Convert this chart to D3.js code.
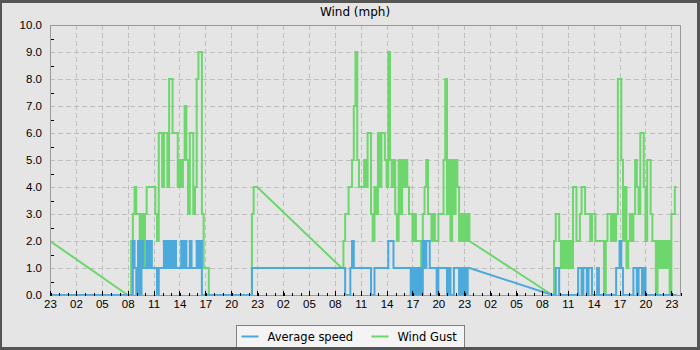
<!DOCTYPE html>
<html>
<head>
<meta charset="utf-8">
<title>Wind (mph)</title>
<script src="https://cdn.jsdelivr.net/npm/d3@7/dist/d3.min.js"></script>
<style>
    body { margin: 0; background: #555; }
    svg { display: block; font-family: "DejaVu Sans", sans-serif; }
</style>
</head>
<body>
<div id="chart"></div>
<script>
const width = 700;
const height = 350;
const margin = { top: 25, right: 20, bottom: 55, left: 50 };
const plotW = width - margin.left - margin.right;
const plotH = height - margin.top - margin.bottom;

// x axis runs 73 hours, starting at 23:00; labels every 3 hours
const spanHours = 73;
const hourLabels = ["23", "02", "05", "08", "11", "14", "17", "20",
                    "23", "02", "05", "08", "11", "14", "17", "20",
                    "23", "02", "05", "08", "11", "14", "17", "20", "23"];
const seriesNames = ["Average speed", "Wind Gust"];

// archive records, one every 0.2 h inside each run; runs are joined by straight lines
const sampleStep = 0.2;
const runStarts = [0, 9.0, 23.2, 33.8, 58.2];

const avgSpeed0 = [0];
const windGust0 = [2];

const avgSpeed1 = [0, 0, 0, 2, 1, 0, 2, 0, 2, 1, 1, 2, 1, 2, 1, 1, 1, 0, 1, 1,
                   1, 2, 1, 2, 1, 2, 1, 2, 1, 1, 1, 2, 1, 2, 1, 1, 2, 1, 1, 1,
                   2, 1, 2, 0, 0, 0, 0, 0];
const windGust1 = [0, 0, 2, 3, 4, 3, 3, 2, 3, 1, 3, 4, 4, 4, 4, 4, 3, 2, 6, 6,
                   4, 6, 6, 4, 8, 8, 6, 6, 6, 4, 5, 4, 5, 7, 5, 3, 6, 6, 3, 4,
                   8, 9, 9, 3, 1, 1, 1, 0];

const avgSpeed2 = [0, 1, 1, 1, 1];
const windGust2 = [0, 3, 4, 4, 4];

const avgSpeed3 = [1,
                   1, 0, 0, 0, 1, 2, 1, 1, 1, 1, 1, 1, 1, 1, 1, 1, 0, 0, 1, 1,
                   1, 1, 1, 1, 1, 1, 2, 2, 2, 1, 1, 1, 1, 1, 1, 1, 1, 1, 1, 0,
                   1, 0, 1, 0, 1, 0, 2, 1, 2, 2, 1, 1, 1, 1, 0, 1, 1, 1, 1, 1,
                   0, 1, 0, 0, 1, 1, 1, 0, 1, 0, 1, 0, 1, 1];
const windGust3 = [1,
                   2, 3, 3, 4, 4, 5, 7, 9, 5, 4, 4, 4, 5, 4, 6, 6, 3, 2, 4, 3,
                   6, 4, 6, 6, 5, 4, 9, 5, 4, 5, 3, 2, 5, 3, 5, 4, 5, 4, 3, 3,
                   2, 3, 2, 2, 2, 1, 3, 4, 5, 3, 3, 2, 3, 2, 2, 3, 3, 3, 5, 8,
                   3, 5, 2, 5, 3, 5, 4, 2, 3, 2, 3, 2, 3, 2];

const avgSpeed4 = [0, 0, 1, 1,
                   0, 0, 0, 0, 0, 0, 0, 0, 0, 0, 0, 1, 1, 0, 1, 1, 0, 1, 1, 0,
                   0, 0, 1, 0, 0, 0, 0, 0, 0, 0, 0, 0, 0, 1, 1, 2, 1, 0, 0, 0,
                   0, 0, 0, 1, 1, 0, 1, 1, 0, 1, 0, 0, 0, 0, 0, 0, 0, 0, 0, 0,
                   0, 0, 0, 0, 0, 0, 0, 0, 0];
const windGust4 = [0, 2, 3, 3,
                   2, 1, 2, 1, 2, 1, 2, 1, 4, 4, 2, 2, 3, 4, 4, 3, 3, 3, 2, 3,
                   3, 2, 2, 2, 2, 2, 0, 2, 3, 3, 2, 3, 2, 3, 8, 8, 5, 2, 4, 1,
                   2, 3, 2, 3, 5, 4, 3, 6, 6, 4, 2, 5, 5, 3, 2, 2, 0, 2, 1, 2,
                   1, 2, 1, 2, 0, 3, 3, 4, 4];

const avgRuns = [avgSpeed0, avgSpeed1, avgSpeed2, avgSpeed3, avgSpeed4];
const gustRuns = [windGust0, windGust1, windGust2, windGust3, windGust4];

const avgColor = "#4ba9db";
const gustColor = "#6dd66d";

const svg = d3.select("#chart").append("svg")
    .attr("width", width)
    .attr("height", height);

// dark frame round the picture
svg.append("rect").attr("width", width).attr("height", height).attr("fill", "#555");
svg.append("rect").attr("x", 2).attr("y", 3).attr("width", width - 5).attr("height", height - 6)
    .attr("fill", "#e5e5e5");

const x = d3.scaleLinear().domain([0, spanHours]).range([0, plotW]);
const y = d3.scaleLinear().domain([0, 10]).range([plotH, 0]);

const g = svg.append("g").attr("transform", `translate(${margin.left},${margin.top})`);

// dashed grid
g.append("g").selectAll("line").data(d3.range(1, 10)).join("line")
    .attr("x1", 0).attr("x2", plotW)
    .attr("y1", d => Math.round(y(d)) + 0.5).attr("y2", d => Math.round(y(d)) + 0.5)
    .attr("stroke", "#bfbfbf").attr("stroke-dasharray", "5,3");
g.append("g").selectAll("line").data(d3.range(3, spanHours, 3)).join("line")
    .attr("x1", d => Math.round(x(d)) + 0.5).attr("x2", d => Math.round(x(d)) + 0.5)
    .attr("y1", 0).attr("y2", plotH)
    .attr("stroke", "#bfbfbf").attr("stroke-dasharray", "5,3");

// turn runs into points: steps inside a run, straight line across gaps
function buildPoints(runs) {
    const pts = [];
    runs.forEach((vals, r) => {
        vals.forEach((v, i) => {
            const t = runStarts[r] + i * sampleStep;
            if (i > 0) pts.push([t, vals[i - 1]]);
            pts.push([t, v]);
        });
    });
    return pts;
}

svg.append("clipPath").attr("id", "plot-clip")
    .append("rect").attr("width", plotW).attr("height", plotH + 1);

const line = d3.line().x(d => x(d[0])).y(d => y(d[1]));

const series = g.append("g").attr("clip-path", "url(#plot-clip)");
series.append("path")
    .datum(buildPoints(gustRuns))
    .attr("d", line)
    .attr("fill", "none").attr("stroke", gustColor).attr("stroke-width", 2);
series.append("path")
    .datum(buildPoints(avgRuns))
    .attr("d", line)
    .attr("fill", "none").attr("stroke", avgColor).attr("stroke-width", 2);

// plot frame
g.append("rect")
    .attr("x", 0.5).attr("y", 0.5).attr("width", plotW).attr("height", plotH)
    .attr("fill", "none").attr("stroke", "#999");

// x axis: hour ticks inside, labels below
const xMinor = g.append("g")
    .attr("transform", `translate(0.5,${plotH + 0.5})`)
    .call(d3.axisBottom(x).tickValues(d3.range(0, spanHours + 1, 1)).tickSize(-3).tickFormat(""));
xMinor.select(".domain").remove();

const xMajor = g.append("g")
    .attr("transform", `translate(0,${plotH + 0.5})`)
    .call(d3.axisBottom(x).tickValues(d3.range(0, spanHours, 3))
        .tickFormat((d, i) => hourLabels[i]).tickSize(-5).tickPadding(4));
xMajor.select(".domain").remove();
xMajor.selectAll("text").attr("font-size", 11.5).attr("fill", "#000");

// y axis
const yMinor = g.append("g")
    .attr("transform", "translate(0.5,0.5)")
    .call(d3.axisLeft(y).tickValues(d3.range(0.5, 10, 1)).tickSize(-3).tickFormat(""));
yMinor.select(".domain").remove();

const yMajor = g.append("g")
    .call(d3.axisLeft(y).tickValues(d3.range(0, 11, 1)).tickFormat(d3.format(".1f")).tickSize(0).tickPadding(8));
yMajor.select(".domain").remove();
yMajor.selectAll("text").attr("font-size", 11.5).attr("fill", "#000");

svg.selectAll(".tick line").attr("stroke", "#000").attr("shape-rendering", "crispEdges");

// title
svg.append("text")
    .attr("x", 355).attr("y", 16)
    .attr("text-anchor", "middle")
    .attr("font-size", 12)
    .text("Wind (mph)");

// legend
const legend = svg.append("g").attr("transform", "translate(236.5,325.5)");
legend.append("rect")
    .attr("width", 228).attr("height", 30)
    .attr("fill", "#f4f4f4").attr("stroke", "#808080");
const legendX = [5, 135];
const legendColors = [avgColor, gustColor];
const item = legend.selectAll("g.item").data(seriesNames).join("g")
    .attr("class", "item")
    .attr("transform", (d, i) => `translate(${legendX[i]},11)`);
item.append("line")
    .attr("x1", 0).attr("x2", 17)
    .attr("stroke", (d, i) => legendColors[i]).attr("stroke-width", 2);
item.append("text")
    .attr("x", 26).attr("y", 4)
    .attr("font-size", 11.5)
    .text(d => d);

// bottom frame strip drawn over the legend box
svg.append("rect").attr("x", 0).attr("y", height - 3).attr("width", width).attr("height", 3).attr("fill", "#555");
</script>
</body>
</html>
